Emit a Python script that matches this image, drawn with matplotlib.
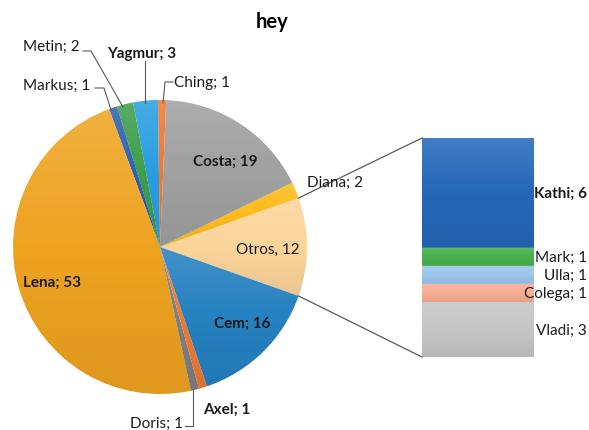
import numpy as np
import matplotlib
matplotlib.use('Agg')
import matplotlib.pyplot as plt

plt.rcParams['font.family'] = ['Lato', 'DejaVu Sans']

# pie, listed counterclockwise starting with the "Otros" wedge
pie_names = ['Otros', 'Diana', 'Costa', 'Ching', 'Yagmur', 'Metin', 'Markus',
             'Lena', 'Doris', 'Axel', 'Cem']
pie_vals = [12, 2, 19, 1, 3, 2, 1, 53, 1, 1, 16]
pie_colors = ['#FBD49A', '#FDBB1B', '#A0A0A0', '#EE7A32', '#2A9DE0', '#3E9E4B',
              '#2C63B0', '#EEA320', '#7F7F7F', '#EE7A32', '#2581C0']

# breakdown of "Otros", bottom to top
bar_names = ['Vladi', 'Colega', 'Ulla', 'Mark', 'Kathi']
bar_vals = [3, 1, 1, 1, 6]
bar_colors = ['#C5C5C5', '#F6AD92', '#9CC5EB', '#47B14D', '#2468B8']

W, H = 589, 431
FS = 11
fig = plt.figure(figsize=(W / 100, H / 100), dpi=100)
ax = fig.add_axes([0, 0, 1, 1])

# soft top-to-bottom shading like the excel gradient fill
shade = np.zeros((64, 1, 4))
t = np.linspace(0, 1, 64)
shade[:, 0, :3] = (t < 0.5)[:, None] * 1.0
shade[:, 0, 3] = np.where(t < 0.5, 0.14 * (1 - 2 * t), 0.07 * (2 * t - 1))

def add_shade(axis, patch):
    x0, y0, x1, y1 = patch.get_path().get_extents().extents
    im = axis.imshow(shade, extent=[x0, x1, y0, y1], aspect='auto',
                     interpolation='bilinear', zorder=patch.get_zorder() + 0.1)
    im.set_clip_path(patch)

cx, cy, r = 160, H - 248, 147
otros_ang = 360.0 * pie_vals[0] / sum(pie_vals)
wedges, _ = ax.pie(pie_vals, colors=pie_colors, startangle=-otros_ang / 2, counterclock=True,
                   center=(cx, cy), radius=r, frame=True, wedgeprops=dict(linewidth=0))
for w in wedges:
    add_shade(ax, w)
ax.set_xlim(0, W)
ax.set_ylim(0, H)
ax.set_aspect('equal')
ax.axis('off')

# bar of "Otros"
bx0, bx1, by0, by1 = 422, 534, 358, 139
ax2 = fig.add_axes([bx0 / W, (H - by0) / H, (bx1 - bx0) / W, (by0 - by1) / H])
bottom = 0
for name, v, c in zip(bar_names, bar_vals, bar_colors):
    rect = ax2.bar(0, v, width=1, bottom=bottom, color=c, linewidth=0)[0]
    x0, y0 = rect.get_xy()
    im = ax2.imshow(shade, extent=[x0, x0 + rect.get_width(), y0, y0 + rect.get_height()],
                    aspect='auto', interpolation='bilinear', zorder=rect.get_zorder() + 0.1)
    bold = 'bold' if name == 'Kathi' else 'normal'
    ax2.text(0.5 + (587 - bx1) / (bx1 - bx0), bottom + v / 2, f'{name}; {v}',
             ha='right', va='center', fontsize=FS, fontweight=bold, color='#1a1a1a', zorder=5)
    bottom += v
ax2.set_xlim(-0.5, 0.5)
ax2.set_ylim(0, sum(bar_vals))
ax2.axis('off')

# connector lines from the Otros wedge to the bar
a = np.radians(otros_ang / 2)
ax.plot([cx + r * np.cos(a), bx0], [cy + r * np.sin(a), H - by1], color='#595959', lw=0.9)
ax.plot([cx + r * np.cos(a), bx0], [cy - r * np.sin(a), H - by0], color='#595959', lw=0.9)

# title
ax.text(272, H - 22, 'hey', ha='center', va='center', fontsize=14.5, fontweight='bold')

# pie labels
def lab(x, y, s, bold=False, ha='center'):
    ax.text(x, H - y, s, ha=ha, va='center', fontsize=FS, color='#1a1a1a',
            fontweight='bold' if bold else 'normal', zorder=5)

lab(51, 47, 'Metin; 2')
lab(142, 54, 'Yagmur; 3', bold=True)
lab(57, 86, 'Markus; 1')
lab(174, 83, 'Ching; 1', ha='left')
lab(225, 162, 'Costa; 19', bold=True)
lab(307, 183, 'Diana; 2', ha='left')
lab(268, 250, 'Otros, 12')
lab(242, 324, 'Cem; 16', bold=True)
lab(52, 283, 'Lena; 53', bold=True)
lab(203, 410, 'Axel; 1', bold=True, ha='left')
lab(183, 424, 'Doris; 1', ha='right')

# leader lines
lc = dict(color='#595959', lw=0.8)
def leader(xs, ys):
    ax.plot(xs, [H - y for y in ys], **lc)

leader([173, 165, 163], [83, 83, 104])
leader([145, 145], [62, 104])
leader([83, 91, 123], [52, 52, 108])
leader([95, 104, 111], [89, 89, 111])
leader([185, 193, 193], [427, 427, 390])

fig.savefig('out.png', dpi=100)
